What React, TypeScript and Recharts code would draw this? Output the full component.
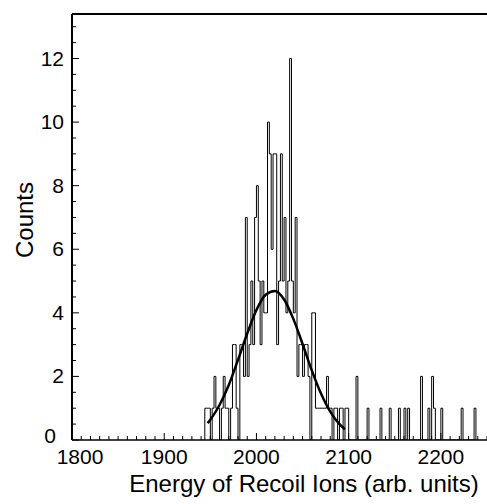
import { ComposedChart, Line, XAxis, YAxis, ReferenceLine } from "recharts";

// histogram: left edge of each 2-unit bin and its count
const BIN_WIDTH = 2;
const binStarts = [
  1944, 1946, 1948, 1950, 1952, 1954, 1956, 1958, 1960, 1962, 1964, 1966, 1968, 1970,
  1972, 1974, 1976, 1978, 1980, 1982, 1984, 1986, 1988, 1990, 1992, 1994, 1996, 1998,
  2000, 2002, 2004, 2006, 2008, 2010, 2012, 2014, 2016, 2018, 2020, 2022, 2024, 2026,
  2028, 2030, 2032, 2034, 2036, 2038, 2040, 2042, 2044, 2046, 2048, 2050, 2052, 2054,
  2056, 2058, 2060, 2062, 2064, 2066, 2068, 2070, 2072, 2074, 2076, 2078, 2080, 2082,
  2084, 2086, 2088, 2090, 2092, 2094, 2096, 2098,
  2108, 2120, 2134, 2144, 2154, 2160, 2164, 2178, 2186, 2190, 2192, 2200, 2222, 2236,
];
const binCounts = [
  1, 1, 1, 0, 1, 2, 1, 1, 0, 1, 2, 1, 1, 0,
  1, 3, 3, 1, 0, 3, 3, 2, 7, 2, 3, 5, 3, 7,
  8, 5, 3, 5, 4, 4, 10, 9, 6, 9, 9, 3, 5, 9,
  5, 7, 4, 5, 12, 5, 4, 7, 2, 3, 3, 2, 3, 3,
  2, 0, 4, 4, 1, 1, 1, 1, 1, 1, 2, 1, 1, 0,
  1, 1, 0, 1, 1, 0, 1, 1,
  2, 1, 1, 1, 1, 1, 1, 2, 1, 2, 1, 1, 1, 1,
];

// gaussian fit
const fitEnergy = [1947, 1950, 1960, 1970, 1980, 1990, 2000, 2010, 2020, 2030, 2040, 2050, 2060, 2070, 2080, 2090, 2096];
const fitCounts = [0.53, 0.64, 1.1, 1.73, 2.52, 3.35, 4.09, 4.57, 4.69, 4.42, 3.81, 3.02, 2.19, 1.46, 0.89, 0.5, 0.34];

const xMajor = [1800, 1900, 2000, 2100, 2200];
const yMajor = [0, 2, 4, 6, 8, 10, 12];
const X_MIN = 1800;
const X_MAX = 2250;
const Y_MAX = 13.4;

const xTicks: number[] = [];
for (let v = X_MIN; v <= X_MAX; v += 10) xTicks.push(v);
const yTicks: number[] = [];
for (let v = 0; v <= 13; v += 0.5) yTicks.push(v);

const histData: { e: number; n: number }[] = [{ e: binStarts[0], n: 0 }];
binStarts.forEach((s, i) => {
  if (i > 0) {
    const prevEnd = binStarts[i - 1] + BIN_WIDTH;
    if (prevEnd < s) histData.push({ e: prevEnd, n: 0 });
  }
  histData.push({ e: s, n: binCounts[i] });
});
histData.push({ e: binStarts[binStarts.length - 1] + BIN_WIDTH, n: 0 });

const fitData = fitEnergy.map((e, i) => ({ e, fit: fitCounts[i] }));

const FONT = "'Liberation Sans', Arial, Helvetica, sans-serif";

function XTick(props: any) {
  const { x, y, payload } = props;
  const major = xMajor.includes(payload.value);
  return (
    <g>
      <line x1={x} x2={x} y1={y} y2={y - (major ? 7 : 4)} stroke="#000" strokeWidth={1} />
      {major && (
        <text x={x + (payload.value === X_MIN ? 8 : 0)} y={y + 24} textAnchor="middle" fontSize={21} fontFamily={FONT} fill="#000">
          {payload.value}
        </text>
      )}
    </g>
  );
}

function YTick(props: any) {
  const { x, y, payload } = props;
  const major = yMajor.includes(payload.value);
  return (
    <g>
      <line x1={x} x2={x + (major ? 7 : 4)} y1={y} y2={y} stroke="#000" strokeWidth={1} />
      {major && (
        <text
          x={x - (payload.value === 0 ? 16 : 8)}
          y={y + (payload.value === 0 ? 3 : 7)}
          textAnchor="end"
          fontSize={21}
          fontFamily={FONT}
          fill="#000"
        >
          {payload.value}
        </text>
      )}
    </g>
  );
}

export default function App() {
  return (
    <div style={{ position: "absolute", left: 0, top: 0, background: "#fff" }}>
      <ComposedChart width={487} height={504} margin={{ top: 14, right: 0, bottom: 0, left: 0 }}>
        <XAxis
          type="number"
          dataKey="e"
          domain={[X_MIN, X_MAX]}
          allowDataOverflow
          ticks={xTicks}
          interval={0}
          tick={(p: any) => <XTick {...p} />}
          tickLine={false}
          tickSize={0}
          tickMargin={0}
          height={64}
          axisLine={{ stroke: "#000", strokeWidth: 1.5 }}
          label={{
            content: () => (
              <text x={304} y={492} textAnchor="middle" fontSize={24} fontFamily={FONT} fill="#000">
                Energy of Recoil Ions (arb. units)
              </text>
            ),
          }}
        />
        <YAxis
          type="number"
          domain={[0, Y_MAX]}
          allowDataOverflow
          ticks={yTicks}
          interval={0}
          tick={(p: any) => <YTick {...p} />}
          tickLine={false}
          tickSize={0}
          tickMargin={0}
          width={72}
          axisLine={{ stroke: "#000", strokeWidth: 2 }}
          label={{
            content: () => (
              <text
                x={33}
                y={220}
                transform="rotate(-90 33 220)"
                textAnchor="middle"
                fontSize={24}
                fontFamily={FONT}
                fill="#000"
              >
                Counts
              </text>
            ),
          }}
        />
        <ReferenceLine y={Y_MAX} stroke="#000" strokeWidth={2} ifOverflow="visible" />
        <Line
          data={histData}
          dataKey="n"
          type="stepAfter"
          stroke="#000"
          strokeWidth={1}
          dot={false}
          activeDot={false}
          isAnimationActive={false}
        />
        <Line
          data={fitData}
          dataKey="fit"
          type="monotone"
          stroke="#000"
          strokeWidth={2.5}
          dot={false}
          activeDot={false}
          isAnimationActive={false}
        />
      </ComposedChart>
    </div>
  );
}
